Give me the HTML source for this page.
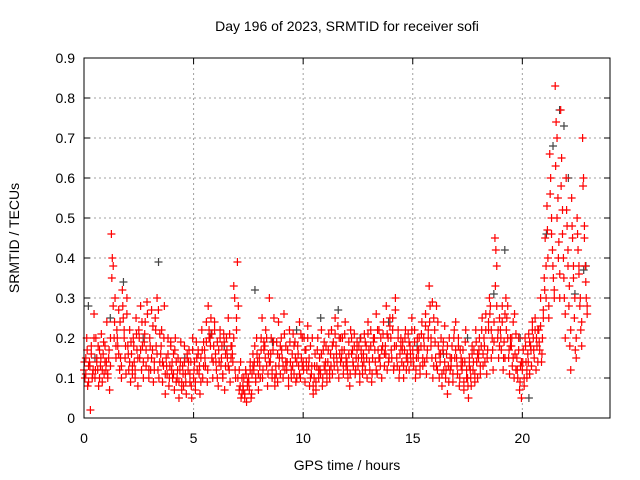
<!DOCTYPE html>
<html><head><meta charset="utf-8"><style>
body{margin:0;background:#fff}
svg{display:block;font-family:"Liberation Sans",sans-serif}
</style></head><body>
<svg id="chart" width="640" height="480">
<text x="347" y="31" font-size="14" text-anchor="middle">Day 196 of 2023, SRMTID for receiver sofi</text>
<text x="347" y="470" font-size="14" text-anchor="middle">GPS time / hours</text>
<text transform="translate(19,238) rotate(-90)" font-size="14" text-anchor="middle">SRMTID / TECUs</text>
<g id="grid"></g><g id="ticks"></g><g id="gray"></g><g id="red"></g>
<rect x="84" y="58" width="526" height="360" fill="none" stroke="#000" stroke-width="1"/>
</svg>
<script>
const xTicks=[0,5,10,15,20];
const yTicks=[0,0.1,0.2,0.3,0.4,0.5,0.6,0.7,0.8,0.9];
const yTickLabels=["0","0.1","0.2","0.3","0.4","0.5","0.6","0.7","0.8","0.9"];
const bucketStart=[];for(let i=0;i<92;i++)bucketStart.push(i*0.25);
const redValues=[
[0.12,0.1,0.15,0.2,0.08,0.13],[0.14,0.02,0.18,0.1,0.12,0.26],[0.1,0.2,0.15,0.12,0.08,0.17],[0.13,0.21,0.09,0.16,0.11,0.18],
[0.12,0.24,0.1,0.15,0.07,0.2],[0.46,0.4,0.38,0.2,0.3,0.15],[0.22,0.18,0.27,0.12,0.15,0.1],[0.32,0.25,0.2,0.15,0.11,0.3],
[0.18,0.12,0.22,0.09,0.16,0.13],[0.2,0.14,0.1,0.25,0.17,0.08],[0.22,0.15,0.28,0.12,0.18,0.1],[0.19,0.24,0.13,0.29,0.15,0.1],
[0.2,0.12,0.27,0.17,0.09,0.14],[0.25,0.18,0.3,0.12,0.1,0.21],[0.16,0.22,0.09,0.13,0.28,0.06],[0.15,0.11,0.2,0.08,0.13,0.18],
[0.12,0.1,0.16,0.07,0.2,0.14],[0.1,0.15,0.05,0.12,0.19,0.09],[0.13,0.08,0.18,0.11,0.06,0.15],[0.12,0.17,0.09,0.14,0.05,0.2],
[0.1,0.14,0.07,0.19,0.12,0.16],[0.11,0.06,0.15,0.22,0.1,0.13],[0.17,0.13,0.24,0.09,0.28,0.2],[0.2,0.25,0.15,0.1,0.18,0.22],
[0.16,0.12,0.19,0.08,0.14,0.22],[0.13,0.18,0.1,0.21,0.07,0.16],[0.2,0.15,0.25,0.12,0.09,0.18],[0.18,0.14,0.33,0.3,0.1,0.22],
[0.39,0.28,0.12,0.08,0.05,0.1],[0.08,0.1,0.06,0.12,0.04,0.09],[0.1,0.07,0.14,0.05,0.11,0.16],[0.12,0.18,0.09,0.2,0.14,0.07],
[0.15,0.1,0.2,0.25,0.12,0.17],[0.18,0.22,0.13,0.08,0.16,0.3],[0.14,0.2,0.1,0.17,0.25,0.08],[0.13,0.19,0.09,0.24,0.15,0.11],
[0.2,0.15,0.1,0.26,0.12,0.18],[0.12,0.17,0.08,0.22,0.14,0.1],[0.16,0.21,0.11,0.19,0.09,0.14],[0.18,0.13,0.24,0.1,0.15,0.2],
[0.14,0.2,0.09,0.17,0.12,0.23],[0.13,0.08,0.18,0.11,0.2,0.06],[0.1,0.16,0.07,0.13,0.2,0.12],[0.15,0.11,0.22,0.08,0.17,0.13],
[0.12,0.18,0.09,0.14,0.21,0.1],[0.16,0.22,0.11,0.19,0.13,0.25],[0.18,0.14,0.23,0.1,0.16,0.2],[0.15,0.2,0.11,0.17,0.24,0.13],
[0.14,0.1,0.19,0.08,0.22,0.16],[0.17,0.13,0.21,0.11,0.15,0.19],[0.13,0.18,0.09,0.2,0.15,0.11],[0.16,0.21,0.12,0.18,0.1,0.24],
[0.17,0.12,0.22,0.09,0.15,0.19],[0.2,0.14,0.26,0.11,0.17,0.22],[0.15,0.2,0.1,0.18,0.24,0.13],[0.18,0.28,0.12,0.2,0.15,0.23],
[0.2,0.15,0.25,0.12,0.18,0.3],[0.18,0.13,0.22,0.1,0.16,0.2],[0.14,0.19,0.1,0.17,0.22,0.12],[0.16,0.21,0.12,0.18,0.14,0.25],
[0.17,0.13,0.22,0.1,0.15,0.2],[0.15,0.2,0.11,0.18,0.24,0.13],[0.2,0.14,0.26,0.11,0.17,0.22],[0.33,0.28,0.2,0.15,0.1,0.25],
[0.22,0.15,0.28,0.12,0.18,0.1],[0.14,0.2,0.08,0.17,0.12,0.23],[0.1,0.16,0.06,0.13,0.2,0.12],[0.13,0.18,0.09,0.2,0.15,0.24],
[0.15,0.11,0.2,0.08,0.17,0.13],[0.12,0.17,0.07,0.14,0.22,0.1],[0.1,0.05,0.15,0.12,0.08,0.18],[0.12,0.17,0.09,0.22,0.14,0.1],
[0.15,0.2,0.11,0.18,0.25,0.13],[0.2,0.14,0.26,0.11,0.17,0.22],[0.3,0.28,0.15,0.2,0.12,0.24],[0.45,0.42,0.38,0.2,0.15,0.25],
[0.22,0.17,0.28,0.12,0.19,0.15],[0.3,0.25,0.2,0.15,0.11,0.18],[0.18,0.13,0.24,0.1,0.16,0.21],[0.15,0.1,0.2,0.07,0.13,0.05],
[0.12,0.17,0.08,0.2,0.14,0.1],[0.16,0.21,0.11,0.18,0.13,0.24],[0.2,0.15,0.25,0.12,0.18,0.22],[0.22,0.17,0.3,0.14,0.2,0.25],
[0.35,0.45,0.3,0.53,0.4,0.28],[0.66,0.6,0.5,0.42,0.35,0.3],[0.83,0.74,0.7,0.55,0.44,0.36],[0.77,0.65,0.52,0.4,0.3,0.2],
[0.6,0.48,0.38,0.28,0.18,0.12],[0.55,0.45,0.35,0.25,0.17,0.15],[0.5,0.42,0.36,0.28,0.22,0.18],[0.7,0.6,0.48,0.38,0.3,0.26]
];
const redValues2=[
[0.14,0.11,0.17,0.09],[0.13,0.16,0.11,0.2],[0.12,0.14,0.18,0.1],[0.15,0.12,0.19,0.14],
[0.14,0.11,0.17,0.13],[0.35,0.28,0.24,0.18],[0.2,0.16,0.24,0.13],[0.28,0.22,0.18,0.26],
[0.16,0.14,0.19,0.11],[0.18,0.12,0.21,0.15],[0.2,0.17,0.24,0.14],[0.21,0.17,0.26,0.12],
[0.18,0.15,0.23,0.12],[0.22,0.16,0.27,0.14],[0.18,0.14,0.2,0.11],[0.13,0.16,0.1,0.19],
[0.14,0.11,0.17,0.09],[0.12,0.09,0.14,0.07],[0.11,0.14,0.09,0.16],[0.14,0.11,0.08,0.17],
[0.12,0.09,0.15,0.17],[0.13,0.09,0.17,0.19],[0.15,0.19,0.12,0.22],[0.18,0.21,0.14,0.24],
[0.14,0.1,0.17,0.2],[0.15,0.11,0.19,0.13],[0.17,0.13,0.21,0.15],[0.16,0.2,0.12,0.25],
[0.1,0.07,0.14,0.06],[0.07,0.05,0.11,0.08],[0.09,0.12,0.06,0.13],[0.14,0.1,0.16,0.11],
[0.13,0.17,0.1,0.19],[0.15,0.2,0.11,0.14],[0.16,0.12,0.19,0.1],[0.11,0.16,0.13,0.18],
[0.17,0.13,0.21,0.14],[0.14,0.1,0.19,0.12],[0.13,0.18,0.15,0.1],[0.16,0.11,0.21,0.13],
[0.12,0.17,0.14,0.2],[0.15,0.1,0.13,0.08],[0.13,0.09,0.17,0.1],[0.12,0.16,0.1,0.19],
[0.14,0.11,0.17,0.12],[0.13,0.18,0.15,0.21],[0.16,0.12,0.2,0.14],[0.17,0.13,0.21,0.15],
[0.12,0.16,0.11,0.2],[0.14,0.18,0.12,0.17],[0.15,0.11,0.17,0.13],[0.14,0.19,0.15,0.21],
[0.14,0.18,0.11,0.2],[0.17,0.12,0.22,0.15],[0.13,0.17,0.21,0.16],[0.16,0.21,0.14,0.25],
[0.17,0.22,0.13,0.27],[0.15,0.2,0.12,0.18],[0.17,0.13,0.2,0.15],[0.14,0.19,0.16,0.22],
[0.15,0.19,0.12,0.17],[0.17,0.13,0.21,0.15],[0.18,0.23,0.15,0.2],[0.24,0.18,0.29,0.13],
[0.19,0.13,0.24,0.16],[0.16,0.11,0.19,0.14],[0.12,0.18,0.09,0.15],[0.15,0.11,0.22,0.17],
[0.13,0.18,0.1,0.15],[0.14,0.09,0.19,0.12],[0.08,0.13,0.1,0.16],[0.14,0.11,0.19,0.16],
[0.17,0.13,0.22,0.16],[0.18,0.22,0.15,0.24],[0.26,0.22,0.17,0.19],[0.33,0.28,0.22,0.18],
[0.2,0.24,0.15,0.26],[0.22,0.28,0.17,0.2],[0.2,0.15,0.26,0.12],[0.12,0.17,0.09,0.14],
[0.14,0.1,0.18,0.12],[0.14,0.19,0.17,0.22],[0.17,0.22,0.2,0.14],[0.19,0.23,0.16,0.27],
[0.32,0.38,0.47,0.25],[0.56,0.46,0.38,0.32],[0.63,0.5,0.4,0.3],[0.58,0.46,0.35,0.26],
[0.52,0.42,0.33,0.22],[0.48,0.38,0.3,0.2],[0.46,0.38,0.3,0.24],[0.58,0.45,0.34,0.28]
];
const grayHours=[0.2,0.5,1.2,1.8,2.7,3.4,4.6,5.8,6.4,7.8,8.6,9.7,10.8,11.6,12.6,13.9,15.2,16.4,17.5,18.7,19.2,19.9,20.3,21.1,21.4,21.7,21.9,22.1,22.4,22.8,22.9];
const grayValues=[0.28,0.15,0.25,0.34,0.2,0.39,0.15,0.21,0.18,0.32,0.19,0.22,0.25,0.27,0.2,0.24,0.18,0.16,0.2,0.31,0.42,0.2,0.05,0.46,0.68,0.77,0.73,0.6,0.31,0.37,0.38];
const X=h=>84+h*526/24, Y=v=>418-v*400;
const NS="http://www.w3.org/2000/svg";
const grid=document.getElementById('grid'),ticks=document.getElementById('ticks');
function mk(tag,attrs,parent){const e=document.createElementNS(NS,tag);for(const k in attrs)e.setAttribute(k,attrs[k]);parent.appendChild(e);return e;}
xTicks.forEach(t=>{
 if(t>0){const g=mk('line',{x1:X(t),x2:X(t),y1:58,y2:418,stroke:'#a0a0a0','stroke-dasharray':'2,3'},grid);
 
 }
 mk('line',{x1:X(t),x2:X(t),y1:418,y2:412,stroke:'#000'},ticks);
 mk('line',{x1:X(t),x2:X(t),y1:58,y2:64,stroke:'#000'},ticks);
 const l=mk('text',{x:X(t),y:443,'font-size':14,'text-anchor':'middle'},ticks);l.textContent=t;
 
 
});
yTicks.forEach((t,i)=>{
 if(t>0&&t<0.9){const g=mk('line',{x1:84,x2:610,y1:Y(t),y2:Y(t),stroke:'#a0a0a0','stroke-dasharray':'2,3'},grid);
 
 }
 mk('line',{x1:84,x2:90,y1:Y(t),y2:Y(t),stroke:'#000'},ticks);
 mk('line',{x1:610,x2:604,y1:Y(t),y2:Y(t),stroke:'#000'},ticks);
 const l=mk('text',{x:75,y:Y(t)+5,'font-size':14,'text-anchor':'end'},ticks);l.textContent=yTickLabels[i];
 
 
});
function plus(parent,h,v,col,name){
 const x=X(h),y=Y(v);
 const p=mk('path',{d:`M${x-4},${y}H${x+4}M${x},${y-4}V${y+4}`,stroke:col,'stroke-width':1.2},parent);
 
 
}
const gG=document.getElementById('gray'),gR=document.getElementById('red');
grayHours.forEach((h,i)=>plus(gG,h,grayValues[i],'#444','gray-point'));
bucketStart.forEach((b,i)=>{const vals=redValues[i];vals.forEach((v,j)=>plus(gR,b+j*0.25/vals.length,v,'#ff0000','red-point'));});
bucketStart.forEach((b,i)=>{const vals=redValues2[i];vals.forEach((v,j)=>plus(gR,b+0.02+j*0.25/vals.length,v,'#ff0000','red-point'));});
</script>
</body></html>
